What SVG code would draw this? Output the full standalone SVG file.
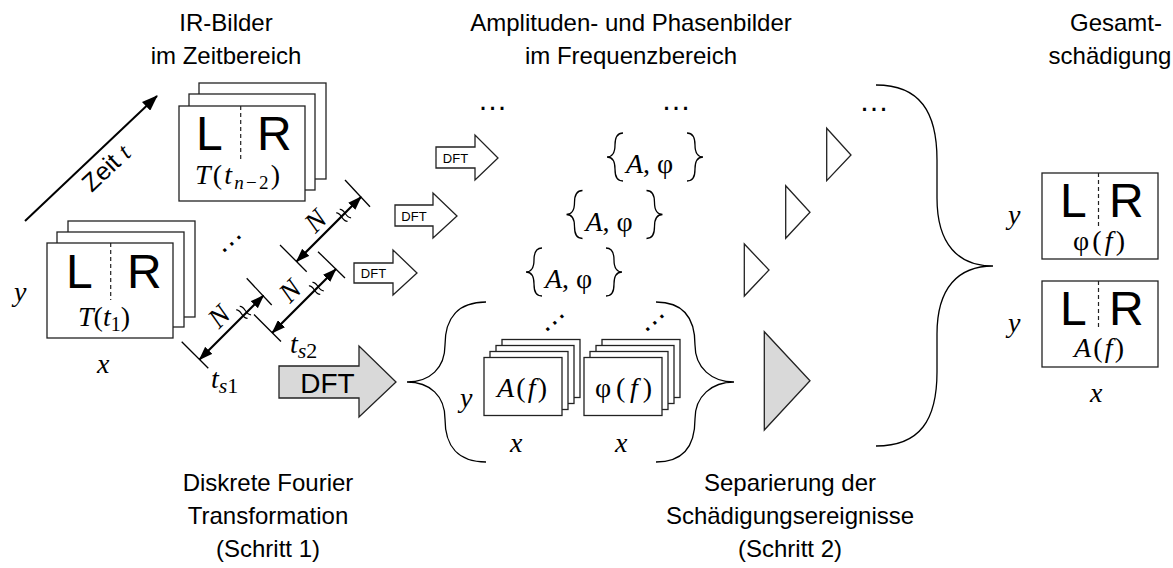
<svg xmlns="http://www.w3.org/2000/svg" width="1173" height="568" viewBox="0 0 1173 568">
<style>
.t{font-family:"Liberation Sans",Arial,sans-serif;font-size:24px;fill:#000;text-anchor:middle}
.lr{font-family:"Liberation Sans",Arial,sans-serif;font-size:48px;fill:#000}
.m{font-family:"Liberation Serif","Times New Roman",serif;font-size:28px;font-style:italic;fill:#000}
.up{font-style:normal}
.box{fill:#fff;stroke:#222;stroke-width:1.3}
.dash{stroke:#222;stroke-width:1.2;stroke-dasharray:4,3}
.ln{stroke:#000;stroke-width:1.3;fill:none}
.dim{stroke:#000;stroke-width:2.2;fill:none}
.br{stroke:#000;stroke-width:1.3;fill:none}
.dft{fill:#fff;stroke:#222;stroke-width:1.3}
.dfts{font-family:"Liberation Sans",Arial,sans-serif;font-size:13px;fill:#000;text-anchor:middle}
.tri{fill:#fff;stroke:#222;stroke-width:1.3}
.dots{font-family:"Liberation Sans",Arial,sans-serif;font-size:30px;fill:#000;text-anchor:middle}
</style>
<defs>
<marker id="ah" markerWidth="14" markerHeight="10" refX="13" refY="5" orient="auto-start-reverse" markerUnits="userSpaceOnUse">
<path d="M0,0 L14,5 L0,10 z" fill="#000"/>
</marker>
<marker id="ahz" markerWidth="16" markerHeight="12" refX="15" refY="6" orient="auto" markerUnits="userSpaceOnUse">
<path d="M0,0 L16,6 L0,12 z" fill="#000"/>
</marker>
<path id="lbrace" d="M16,-24 C10,-24 8,-20 8,-12 C8,-4 5,0 0,0 C5,0 8,4 8,12 C8,20 10,24 16,24" class="br"/>
<path id="rbrace" d="M-16,-24 C-10,-24 -8,-20 -8,-12 C-8,-4 -5,0 0,0 C-5,0 -8,4 -8,12 C-8,20 -10,24 -16,24" class="br"/>
<path id="brk" d="M-4,-7 C0,-4 -6,3 -2,7 M1,-7 C5,-4 -1,3 3,7" stroke="#000" stroke-width="1.2" fill="none"/>
</defs>

<!-- Titles -->
<g id="titles">
<text class="t" x="226" y="31">IR-Bilder</text>
<text class="t" x="226" y="64">im Zeitbereich</text>
<text class="t" x="631" y="31">Amplituden- und Phasenbilder</text>
<text class="t" x="631" y="64">im Frequenzbereich</text>
<text class="t" x="1116" y="31">Gesamt-</text>
<text class="t" x="1110" y="64">schädigung</text>
<text class="t" x="268" y="491">Diskrete Fourier</text>
<text class="t" x="268" y="524">Transformation</text>
<text class="t" x="268" y="557">(Schritt 1)</text>
<text class="t" x="790" y="491">Separierung der</text>
<text class="t" x="790" y="524">Schädigungsereignisse</text>
<text class="t" x="790" y="557">(Schritt 2)</text>
</g>

<!-- Time axis -->
<g id="zeit">
<line x1="25" y1="221" x2="157" y2="96" stroke="#000" stroke-width="2" marker-end="url(#ahz)"/>
<text transform="translate(112,174) rotate(-43.4)" font-family="Liberation Sans,Arial,sans-serif" font-size="25" text-anchor="middle">Zeit <tspan font-family="Liberation Serif,serif" font-style="italic">t</tspan></text>
</g>

<!-- Stack T(t1) -->
<g id="stack-t1">
<rect class="box" x="68" y="221" width="127" height="96"/>
<rect class="box" x="57" y="232" width="127" height="95"/>
<rect class="box" x="47" y="243" width="126" height="95"/>
<line class="dash" x1="110.7" y1="243" x2="110.7" y2="300"/>
<text class="lr" x="66" y="288">L</text>
<text class="lr" x="127" y="288">R</text>
<text class="m" x="78" y="326" font-size="29"><tspan>T</tspan><tspan class="up">(</tspan>t<tspan font-size="20" dy="5" class="up">1</tspan><tspan class="up" dy="-5">)</tspan></text>
<text class="m" x="14" y="301">y</text>
<text class="m" x="97" y="373">x</text>
</g>

<!-- Stack T(t_{n-2}) -->
<g id="stack-tn2">
<rect class="box" x="199" y="83" width="127" height="96"/>
<rect class="box" x="189" y="94" width="126" height="96"/>
<rect class="box" x="179" y="106" width="126" height="95"/>
<line class="dash" x1="240.7" y1="106" x2="240.7" y2="161"/>
<text class="lr" x="196" y="150">L</text>
<text class="lr" x="257" y="150">R</text>
<text class="m" x="195" y="184" textLength="85">T<tspan class="up">(</tspan>t<tspan font-size="19" dy="5">n</tspan><tspan font-size="19" class="up">−2</tspan><tspan class="up" dy="-5">)</tspan></text>
</g>

<text class="dots" transform="translate(233,245) rotate(-42)">…</text>

<!-- Dimension lines -->
<g id="dimensions">
<line class="ln" x1="181.7" y1="341.7" x2="208.3" y2="368.3"/>
<line class="ln" x1="246.7" y1="278.3" x2="271.7" y2="305"/>
<line class="ln" x1="254" y1="314.5" x2="281" y2="341.5"/>
<line class="ln" x1="318" y1="251.7" x2="345" y2="278"/>
<line class="ln" x1="280" y1="245" x2="306.7" y2="271.7"/>
<line class="ln" x1="345" y1="180" x2="370" y2="206.7"/>
<line class="dim" x1="199.5" y1="359.5" x2="263.5" y2="295.5" marker-start="url(#ah)" marker-end="url(#ah)"/>
<line class="dim" x1="272.3" y1="332.8" x2="335.8" y2="269.2" marker-start="url(#ah)" marker-end="url(#ah)"/>
<line class="dim" x1="296.5" y1="261.5" x2="361" y2="197" marker-start="url(#ah)" marker-end="url(#ah)"/>
<use href="#brk" transform="translate(244,312) rotate(-45)"/>
<use href="#brk" transform="translate(316.7,288) rotate(-45)"/>
<use href="#brk" transform="translate(344,215) rotate(-45)"/>
<text class="m" transform="translate(225.5,323) rotate(-45)" text-anchor="middle" font-size="28">N</text>
<text class="m" transform="translate(296.5,297.5) rotate(-45)" text-anchor="middle" font-size="28">N</text>
<text class="m" transform="translate(322,227.5) rotate(-45)" text-anchor="middle" font-size="28">N</text>
<text class="m" x="211" y="388" font-size="30">t<tspan font-size="22" dy="5">s</tspan><tspan font-size="22" class="up">1</tspan></text>
<text class="m" x="290" y="353" font-size="30">t<tspan font-size="22" dy="5">s</tspan><tspan font-size="22" class="up">2</tspan></text>
</g>

<!-- DFT arrows -->
<g id="dft-small">
<polygon class="dft" points="354,263 393,263 393,250 417,273 393,295 393,283 354,283"/>
<text class="dfts" x="373.5" y="278">DFT</text>
<polygon class="dft" points="395,205 433,205 433,193 457,216 433,238 433,226 395,226"/>
<text class="dfts" x="414" y="220.5">DFT</text>
<polygon class="dft" points="436,147 475,147 475,135 498,158 475,180 475,168 436,168"/>
<text class="dfts" x="455.5" y="162.5">DFT</text>
</g>
<g id="dft-big">
<polygon points="279,366 359,366 359,346 396,382 359,417 359,398 279,398" fill="#d9d9d9" stroke="#222" stroke-width="1.3"/>
<text x="327.5" y="393" font-family="Liberation Sans,Arial,sans-serif" font-size="28" text-anchor="middle">DFT</text>
</g>

<!-- Frequency-domain bracket with stacks -->
<g id="freq-stacks">
<path class="br" d="M486,302 C458,302 445,318 445,345 C445,368 430,382 407,382 C430,382 445,396 445,419 C445,446 458,462 486,462"/>
<path class="br" d="M656,302 C684,302 695,318 695,345 C695,368 712,382 734,382 C712,382 695,396 695,419 C695,446 684,462 656,462"/>
<rect class="box" x="502" y="339.5" width="78" height="58"/>
<rect class="box" x="496" y="345.5" width="78" height="58"/>
<rect class="box" x="490" y="351.5" width="78" height="58"/>
<rect class="box" x="484" y="357.5" width="78" height="58"/>
<text class="m" x="497" y="397" textLength="50">A<tspan class="up">(</tspan>f<tspan class="up">)</tspan></text>
<rect class="box" x="602" y="339.5" width="78" height="58"/>
<rect class="box" x="596" y="345.5" width="78" height="58"/>
<rect class="box" x="590" y="351.5" width="78" height="58"/>
<rect class="box" x="584" y="357.5" width="78" height="58"/>
<text class="m" x="595" y="397" textLength="57"><tspan class="up">φ(</tspan>f<tspan class="up">)</tspan></text>
<text class="m" x="460" y="407">y</text>
<text class="m" x="510" y="452">x</text>
<text class="m" x="615" y="452">x</text>
<text class="dots" transform="translate(556,324) rotate(-42)">…</text>
<text class="dots" transform="translate(656,324) rotate(-42)">…</text>
</g>

<!-- {A, φ} sets -->
<g id="sets">
<use href="#lbrace" transform="translate(607,157)"/>
<use href="#rbrace" transform="translate(703,157)"/>
<text class="m" x="626" y="173" font-size="28">A<tspan class="up">, φ</tspan></text>
<use href="#lbrace" transform="translate(566.5,214.5)"/>
<use href="#rbrace" transform="translate(662.5,214.5)"/>
<text class="m" x="585.5" y="230.5" font-size="28">A<tspan class="up">, φ</tspan></text>
<use href="#lbrace" transform="translate(526,272)"/>
<use href="#rbrace" transform="translate(622,272)"/>
<text class="m" x="545" y="288" font-size="28">A<tspan class="up">, φ</tspan></text>
<text class="dots" x="492.5" y="110">…</text>
<text class="dots" x="676" y="110">…</text>
<text class="dots" x="874" y="111">…</text>
</g>

<!-- Separation triangles -->
<g id="separation">
<polygon class="tri" points="826.7,128.3 826.7,180.7 851,155"/>
<polygon class="tri" points="785.7,185.7 785.7,238.3 810,212.3"/>
<polygon class="tri" points="744.3,244 744.3,296 769,270"/>
<polygon points="764.3,331.7 764.3,430 810,380.7" fill="#d9d9d9" stroke="#222" stroke-width="1.3"/>
<path class="br" d="M876,85 C920,85 937,112 937,160 L937,198 C937,244 958,266 993,266 C958,266 937,288 937,334 L937,372 C937,420 920,446 876,446"/>
</g>

<!-- Total damage -->
<g id="gesamt-phi">
<rect class="box" x="1042" y="173" width="116" height="86"/>
<line class="dash" x1="1098.5" y1="173" x2="1098.5" y2="227"/>
<text class="lr" x="1060" y="217">L</text>
<text class="lr" x="1109" y="217">R</text>
<text class="m" x="1073" y="250" textLength="52"><tspan class="up">φ(</tspan>f<tspan class="up">)</tspan></text>
<text class="m" x="1008" y="224">y</text>
</g>
<g id="gesamt-a">
<rect class="box" x="1042" y="281" width="116" height="86"/>
<line class="dash" x1="1098.5" y1="281" x2="1098.5" y2="327"/>
<text class="lr" x="1060" y="325">L</text>
<text class="lr" x="1109" y="325">R</text>
<text class="m" x="1074" y="357" textLength="50">A<tspan class="up">(</tspan>f<tspan class="up">)</tspan></text>
<text class="m" x="1008" y="332">y</text>
<text class="m" x="1090" y="402">x</text>
</g>
</svg>
